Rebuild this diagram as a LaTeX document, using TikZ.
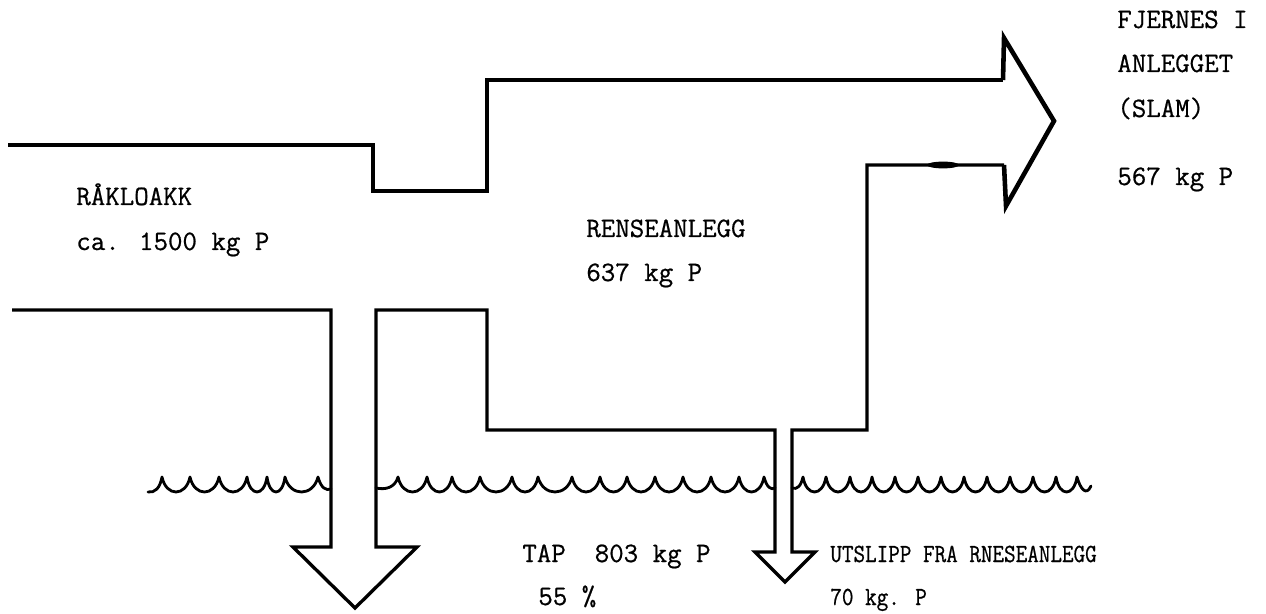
\documentclass[tikz,border=0pt]{standalone}
\usepackage{fontspec}
\usepackage{graphicx}
\newfontfamily\twfont{Latin Modern Mono}[FakeBold=0.7]
\begin{document}
\begin{tikzpicture}[x=0.02cm,y=-0.02cm,
  outline/.style={line width=1.9pt,line join=miter},
  headline/.style={line width=2.6pt,line join=miter},
  wave/.style={line width=1.6pt,line join=round,line cap=round},
  lbl/.style={anchor=base west,inner sep=0pt,font=\twfont\fontsize{16}{19}\selectfont}]
\useasboundingbox (0,0) rectangle (1266,614);
% named corner points
\coordinate (inTop) at (8,145);
\coordinate (s1) at (373,145);
\coordinate (s2) at (373,191);
\coordinate (s3) at (487,191);
\coordinate (s4) at (487,80);
\coordinate (h1) at (1003,80);
\coordinate (h2) at (1004,38);
\coordinate (tip) at (1054,121);
\coordinate (h3) at (1006,206);
\coordinate (h4) at (1004,165);
\coordinate (r1) at (867,165);
\coordinate (r2) at (867,430);
\coordinate (u1) at (792,430);
\coordinate (u2) at (792,552);
\coordinate (u3) at (815,552);
\coordinate (utip) at (785,582);
\coordinate (u4) at (755,552);
\coordinate (u5) at (775,552);
\coordinate (u6) at (775,430);
\coordinate (m1) at (487,430);
\coordinate (m2) at (487,310);
\coordinate (t1) at (376,310);
\coordinate (t2) at (376,547);
\coordinate (t3) at (417,547);
\coordinate (ttip) at (355,608);
\coordinate (t4) at (293,547);
\coordinate (t5) at (331,547);
\coordinate (t6) at (331,310);
\coordinate (inBot) at (12,310);
% outline of the flows
\draw[outline] (inTop) -- (s1) -- (s2) -- (s3) -- (s4) -- (h1);
\draw[headline] (h1) -- (h2) -- (tip) -- (h3) -- (h4);
\draw[outline] (h4) -- (r1) -- (r2) -- (u1) -- (u2) -- (u3) -- (utip) -- (u4) -- (u5) -- (u6)
  -- (m1) -- (m2) -- (t1) -- (t2) -- (t3) -- (ttip) -- (t4) -- (t5) -- (t6) -- (inBot);
\fill (943,165) ellipse [x radius=16, y radius=3.4];
% water surface
\draw[wave] (148,492) .. controls (155,493) and (160,488) .. (162,477)
  \foreach \a/\b in {162/190,190/219,219/247,247/267,267/285,285/318}
   { .. controls ({\a+0.15*(\b-\a)},497) and ({\b-0.15*(\b-\a)},497) .. (\b,477) }
  .. controls (321,488) and (326,491) .. (331,489);
\draw[wave] (376,488) .. controls (385,490) and (395,488) .. (398,477)
  \foreach \a/\b in {398/427,427/452,452/480,480/512,512/538,538/572,572/600,600/627,627/655,655/683,683/711,711/739,739/764}
   { .. controls ({\a+0.15*(\b-\a)},497) and ({\b-0.15*(\b-\a)},497) .. (\b,477) }
  .. controls (767,488) and (771,490) .. (775,488);
\draw[wave] (792,488) .. controls (797,490) and (801,486) .. (803,477)
  \foreach \a/\b in {803/826,826/850,850/872,872/895,895/918,918/941,941/964,964/987,987/1010,1010/1033,1033/1056,1056/1077}
   { .. controls ({\a+0.15*(\b-\a)},497) and ({\b-0.15*(\b-\a)},497) .. (\b,477) }
  .. controls (1080,488) and (1086,497) .. (1091,486);
% labels
\node[lbl] (fj) at (1117,28) {FJERNES I};
\node[lbl] (an) at (1117,72) {ANLEGGET};
\node[lbl] (sl) at (1117,117) {(SLAM)};
\node[lbl] (sk) at (1117,185) {567 kg P};
\node[lbl] (rk) at (76,205) {RÅKLOAKK};
\node[lbl] (rkv) at (76,250) {ca. 1500 kg P};
\node[lbl] (ra) at (586,237) {RENSEANLEGG};
\node[lbl] (rav) at (586,281) {637 kg P};
\node[lbl] (tap) at (522,562) {TAP\ \ 803 kg P};
\node[lbl] (pct) at (538,605) {55 \%};
\node[lbl] (ut) at (830,562) {\scalebox{0.8}[0.93]{UTSLIPP FRA RNESEANLEGG}};
\node[lbl] (utv) at (830,605) {\scalebox{0.8}[0.93]{70 kg. P}};
\end{tikzpicture}
\end{document}
